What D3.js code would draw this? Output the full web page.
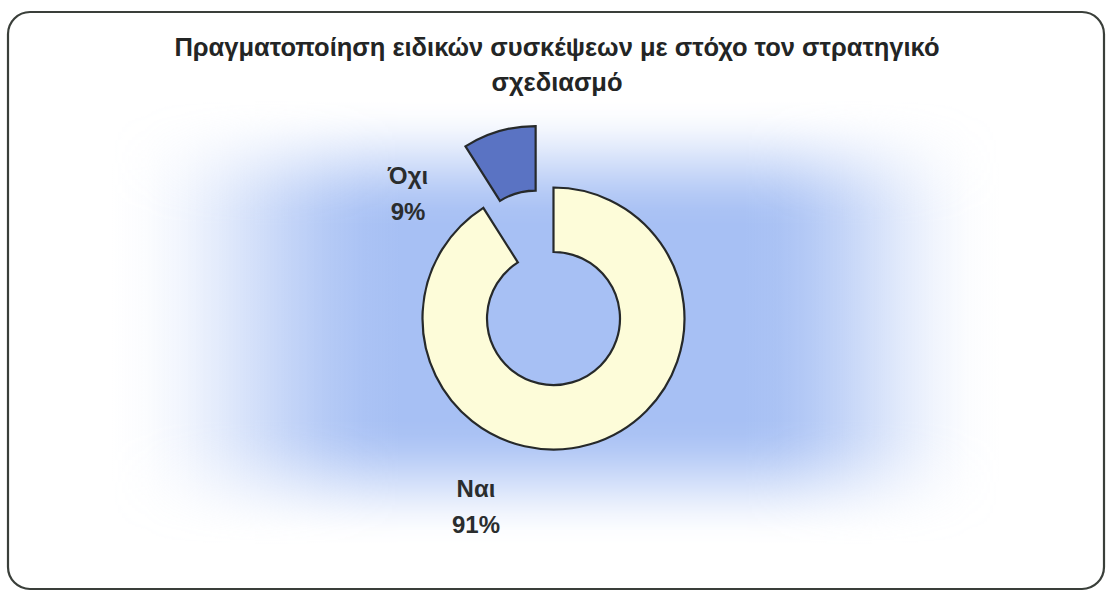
<!DOCTYPE html>
<html>
<head>
<meta charset="utf-8">
<script src="https://cdn.jsdelivr.net/npm/d3@7"></script>
<style>
  html, body { margin: 0; padding: 0; background: #ffffff; }
  svg { display: block; }
</style>
</head>
<body>
<svg id="chart" width="1107" height="591"></svg>
<script>
// Answers to the question about strategic planning meetings
const categories = ["Ναι", "Όχι"];
const shares = [91, 9];
const percentLabels = ["91%", "9%"];
const titleLines = [
  "Πραγματοποίηση ειδικών συσκέψεων με στόχο τον στρατηγικό",
  "σχεδιασμό"
];
const sliceColors = ["#fdfcd9", "#5a73c3"];

const W = 1107, H = 591;
const svg = d3.select("#chart");
const defs = svg.append("defs");

// soft blue glow: a horizontal fade masked by a vertical fade
const glowColor = "#a7c0f4";
const ease = t => t * t * (3 - 2 * t);
function fadeStops(grad, a0, a1, b0, b1, total, color) {
  const pts = [];
  const n = 8;
  for (let k = 0; k <= n; k++) pts.push([a0 + (a1 - a0) * k / n, ease(k / n)]);
  for (let k = 0; k <= n; k++) pts.push([b0 + (b1 - b0) * k / n, ease(1 - k / n)]);
  grad.append("stop").attr("offset", 0).attr("stop-color", color).attr("stop-opacity", 0);
  pts.forEach(([p, o]) => {
    grad.append("stop").attr("offset", p / total).attr("stop-color", color).attr("stop-opacity", o);
  });
  grad.append("stop").attr("offset", 1).attr("stop-color", color).attr("stop-opacity", 0);
}
const hGrad = defs.append("linearGradient").attr("id", "glowH")
  .attr("gradientUnits", "userSpaceOnUse")
  .attr("x1", 0).attr("y1", 0).attr("x2", W).attr("y2", 0);
fadeStops(hGrad, 110, 400, 745, 1000, W, glowColor);
const vGrad = defs.append("linearGradient").attr("id", "glowV")
  .attr("gradientUnits", "userSpaceOnUse")
  .attr("x1", 0).attr("y1", 0).attr("x2", 0).attr("y2", H);
fadeStops(vGrad, 100, 225, 420, 545, H, "#ffffff");
defs.append("mask").attr("id", "glowMask")
  .attr("maskUnits", "userSpaceOnUse")
  .attr("x", 0).attr("y", 0).attr("width", W).attr("height", H)
  .append("rect").attr("x", 0).attr("y", 0).attr("width", W).attr("height", H)
  .attr("fill", "url(#glowV)");

defs.append("clipPath").attr("id", "frameClip")
  .append("rect")
  .attr("x", 8).attr("y", 12).attr("width", 1096).attr("height", 577)
  .attr("rx", 22).attr("ry", 22);

const bg = svg.append("g").attr("clip-path", "url(#frameClip)");
bg.append("rect").attr("x", 0).attr("y", 0).attr("width", W).attr("height", H).attr("fill", "#ffffff");
bg.append("rect")
  .attr("x", 0).attr("y", 0).attr("width", W).attr("height", H)
  .attr("fill", "url(#glowH)")
  .attr("mask", "url(#glowMask)");

// frame
svg.append("rect")
  .attr("x", 8).attr("y", 12).attr("width", 1096).attr("height", 577)
  .attr("rx", 22).attr("ry", 22)
  .attr("fill", "none")
  .attr("stroke", "#3a3f3a")
  .attr("stroke-width", 2.2);

// title
const title = svg.append("text")
  .attr("text-anchor", "middle")
  .attr("font-family", "'Liberation Sans', Arial, sans-serif")
  .attr("font-weight", "bold")
  .attr("font-size", 25.5)
  .attr("fill", "#232525");
titleLines.forEach((t, i) => {
  title.append("tspan").attr("x", 557).attr("y", 56 + i * 35).text(t);
});

// donut
const cx = 553.5, cy = 318.5;
const outerR = 131, innerR = 66.5;
const explode = 64;

const pie = d3.pie().sort(null).value(d => d.value).startAngle(0).endAngle(2 * Math.PI);
const arcs = pie(categories.map((c, i) => ({ name: c, value: shares[i], label: percentLabels[i], color: sliceColors[i] })));
const arc = d3.arc().innerRadius(innerR).outerRadius(outerR);

const g = svg.append("g").attr("transform", `translate(${cx},${cy})`);
g.selectAll("path.slice")
  .data(arcs)
  .join("path")
  .attr("class", "slice")
  .attr("d", arc)
  .attr("fill", d => d.data.color)
  .attr("stroke", "#26292a")
  .attr("stroke-width", 2.2)
  .attr("stroke-linejoin", "miter")
  .attr("transform", (d, i) => {
    if (i === 0) return null;
    const a = (d.startAngle + d.endAngle) / 2;
    return `translate(${explode * Math.sin(a)},${-explode * Math.cos(a)})`;
  });

// data labels (category and percentage)
const labelPos = [
  { x: 476, y: 497 },
  { x: 408, y: 184 }
];
const labels = svg.append("g")
  .attr("font-family", "'Liberation Sans', Arial, sans-serif")
  .attr("font-weight", "bold")
  .attr("font-size", 24)
  .attr("fill", "#2a2d2e")
  .attr("text-anchor", "middle");
arcs.forEach((d, i) => {
  const t = labels.append("text");
  t.append("tspan").attr("x", labelPos[i].x).attr("y", labelPos[i].y).text(d.data.name);
  t.append("tspan").attr("x", labelPos[i].x).attr("y", labelPos[i].y + 36).text(d.data.label);
});
</script>
</body>
</html>
